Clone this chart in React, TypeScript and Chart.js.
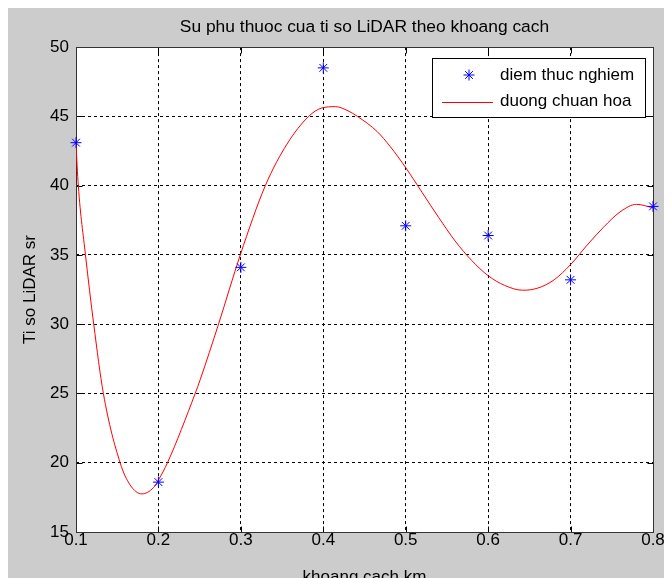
import { useEffect, useRef } from 'react';
import { Chart, registerables } from 'chart.js';
import { drawPoint } from 'chart.js/helpers';

Chart.register(...registerables);

// ---- data ----
const chartTitle = 'Su phu thuoc cua ti so LiDAR theo khoang cach';
const xTitle = 'khoang cach km';
const yTitle = 'Ti so LiDAR sr';
const seriesPointsLabel = 'diem thuc nghiem';
const seriesFitLabel = 'duong chuan hoa';

const distanceKm = [0.1, 0.2, 0.3, 0.4, 0.5, 0.6, 0.7, 0.8];
const measuredRatio = [43.1, 18.6, 34.1, 48.5, 37.1, 36.4, 33.2, 38.5];

const fitX = [
  0.1, 0.1028, 0.1115, 0.1215, 0.1332, 0.1535, 0.1656, 0.1798, 0.194, 0.2, 0.211,
  0.2446, 0.2507, 0.2729, 0.2993, 0.3297, 0.356, 0.3823, 0.398, 0.415, 0.43,
  0.4414, 0.4654, 0.4815, 0.5, 0.52, 0.54, 0.56, 0.58, 0.6,
  0.62, 0.642, 0.66, 0.68, 0.7, 0.72, 0.74, 0.76, 0.78, 0.8,
];
const fitY = [
  43.0, 40.0, 35.0, 30.0, 25.0, 20.0, 18.4, 17.75, 18.2, 18.75, 20.0,
  25.0, 26.0, 30.0, 35.0, 40.0, 43.0, 45.0, 45.6, 45.7, 45.4,
  45.0, 43.9, 42.8, 41.3, 39.5, 37.7, 36.0, 34.6, 33.5,
  32.8, 32.45, 32.6, 33.2, 34.3, 35.7, 37.0, 38.1, 38.65, 38.4,
];

const xTickValues = [0.1, 0.2, 0.3, 0.4, 0.5, 0.6, 0.7, 0.8];
const yTickValues = [15, 20, 25, 30, 35, 40, 45, 50];

// ---- styles ----
const FONT_FAMILY = '"Liberation Sans", Arial, Helvetica, sans-serif';
const FONT_SIZE = 17;
const TICK_LEN = 6;

const matlabFrame = {
  id: 'matlabFrame',
  beforeDraw(chart: any) {
    const { ctx, chartArea: a, width, height } = chart;
    ctx.save();
    ctx.fillStyle = '#cccccc';
    ctx.fillRect(0, 0, width, height);
    ctx.fillStyle = '#ffffff';
    ctx.fillRect(a.left, a.top, a.right - a.left, a.bottom - a.top);
    ctx.restore();
  },
  beforeDatasetsDraw(chart: any) {
    const { ctx, chartArea: a, scales } = chart;
    const L = Math.round(a.left) + 0.5;
    const R = Math.round(a.right) + 0.5;
    const T = Math.round(a.top) + 0.5;
    const B = Math.round(a.bottom) + 0.5;
    ctx.save();
    ctx.strokeStyle = '#000';
    ctx.lineWidth = 1;
    ctx.setLineDash([]);
    ctx.beginPath();
    for (const t of scales.x.ticks) {
      const px = Math.round(scales.x.getPixelForValue(t.value)) + 0.5;
      ctx.moveTo(px, B);
      ctx.lineTo(px, B - TICK_LEN);
      ctx.moveTo(px, T);
      ctx.lineTo(px, T + TICK_LEN);
    }
    for (const t of scales.y.ticks) {
      const py = Math.round(scales.y.getPixelForValue(t.value)) + 0.5;
      ctx.moveTo(L, py);
      ctx.lineTo(L + TICK_LEN, py);
      ctx.moveTo(R, py);
      ctx.lineTo(R - TICK_LEN, py);
    }
    ctx.stroke();
    ctx.strokeStyle = '#333';
    ctx.strokeRect(L, T, R - L, B - T);
    ctx.restore();
  },
  afterDraw(chart: any) {
    const { ctx, chartArea: a } = chart;
    const ds = chart.data.datasets;
    const boxW = 213;
    const boxH = 59;
    const boxRight = Math.round(a.right) - 8;
    const boxTop = Math.round(a.top) + 11;
    const boxLeft = boxRight - boxW;
    ctx.save();
    ctx.fillStyle = '#ffffff';
    ctx.fillRect(boxLeft, boxTop, boxW, boxH);
    ctx.strokeStyle = '#000';
    ctx.lineWidth = 1;
    ctx.setLineDash([]);
    ctx.strokeRect(boxLeft + 0.5, boxTop + 0.5, boxW, boxH);

    const rows = [boxTop + 17, boxTop + 43.5];
    ctx.strokeStyle = ds[0].borderColor;
    ctx.fillStyle = ds[0].borderColor;
    ctx.lineWidth = 1;
    drawPoint(ctx, { pointStyle: 'star', radius: 5.5, rotation: 0, borderWidth: 1 } as any, boxLeft + 37, rows[0]);
    ctx.strokeStyle = ds[1].borderColor;
    ctx.beginPath();
    ctx.moveTo(boxLeft + 10, Math.round(rows[1]) + 0.5);
    ctx.lineTo(boxLeft + 61, Math.round(rows[1]) + 0.5);
    ctx.stroke();

    ctx.fillStyle = '#000';
    ctx.font = `${FONT_SIZE}px ${FONT_FAMILY}`;
    ctx.textAlign = 'left';
    ctx.textBaseline = 'middle';
    ctx.fillText(ds[0].label, boxLeft + 68, rows[0]);
    ctx.fillText(ds[1].label, boxLeft + 68, rows[1]);
    ctx.restore();
  },
};

export default function App() {
  const canvasRef = useRef<HTMLCanvasElement | null>(null);

  useEffect(() => {
    document.body.style.overflow = 'hidden';
    const canvas = canvasRef.current;
    if (!canvas) return;
    const font = { family: FONT_FAMILY, size: FONT_SIZE, weight: 'normal' as const, lineHeight: 1.2 };
    const titleFont = { family: FONT_FAMILY, size: 17.4, weight: 'normal' as const, lineHeight: 1.2 };
    const tickFont = { family: FONT_FAMILY, size: FONT_SIZE, weight: 'normal' as const, lineHeight: 1 };

    const chart = new Chart(canvas, {
      type: 'scatter',
      data: {
        datasets: [
          {
            type: 'scatter',
            label: seriesPointsLabel,
            data: distanceKm.map((x, i) => ({ x, y: measuredRatio[i] })),
            borderColor: '#0000ff',
            backgroundColor: '#0000ff',
            pointStyle: 'star',
            pointRadius: 5.5,
            pointBorderWidth: 1,
            showLine: false,
            clip: false as any,
            order: 1,
          },
          {
            type: 'line',
            label: seriesFitLabel,
            data: fitX.map((x, i) => ({ x, y: fitY[i] })),
            borderColor: '#ff0000',
            backgroundColor: '#ff0000',
            borderWidth: 1,
            pointRadius: 0,
            fill: false,
            cubicInterpolationMode: 'monotone',
            showLine: true,
            order: 2,
          },
        ] as any,
      },
      options: {
        animation: false,
        responsive: false,
        devicePixelRatio: 1,
        events: [],
        layout: { padding: { left: 0, right: 19, top: 0, bottom: 0 } },
        plugins: {
          legend: { display: false },
          tooltip: { enabled: false },
          title: {
            display: true,
            text: chartTitle,
            fullSize: false,
            color: '#000',
            font: titleFont,
            padding: { top: 9.1, bottom: 9.1 },
          },
        },
        scales: {
          x: {
            type: 'linear',
            position: 'bottom',
            min: 0.1,
            max: 0.8,
            afterBuildTicks: (s: any) => {
              s.ticks = xTickValues.map((v) => ({ value: v }));
            },
            afterFit: (s: any) => {
              s.height = 66;
            },
            grid: { color: '#000', lineWidth: 1, drawTicks: false },
            border: { display: false, dash: [3, 3] },
            ticks: {
              color: '#000',
              font: tickFont,
              padding: 0,
              maxRotation: 0,
              autoSkip: false,
              callback: (v: any) => Number(v).toFixed(1),
            },
            title: {
              display: true,
              text: xTitle,
              color: '#000',
              font,
              padding: { top: 0, bottom: 10.8 },
            },
          },
          y: {
            type: 'linear',
            min: 15,
            max: 50,
            afterBuildTicks: (s: any) => {
              s.ticks = yTickValues.map((v) => ({ value: v }));
            },
            afterFit: (s: any) => {
              s.width = 68;
            },
            grid: { color: '#000', lineWidth: 1, drawTicks: false },
            border: { display: false, dash: [3, 3] },
            ticks: {
              color: '#000',
              font: tickFont,
              padding: 7,
              autoSkip: false,
              callback: (v: any) => String(v),
            },
            title: {
              display: true,
              text: yTitle,
              color: '#000',
              font,
              padding: { top: 11.8, bottom: 0 },
            },
          },
        },
      } as any,
      plugins: [matlabFrame],
    });

    return () => {
      chart.destroy();
    };
  }, []);

  return <canvas ref={canvasRef} width={664} height={590} style={{ display: 'block' }} />;
}
